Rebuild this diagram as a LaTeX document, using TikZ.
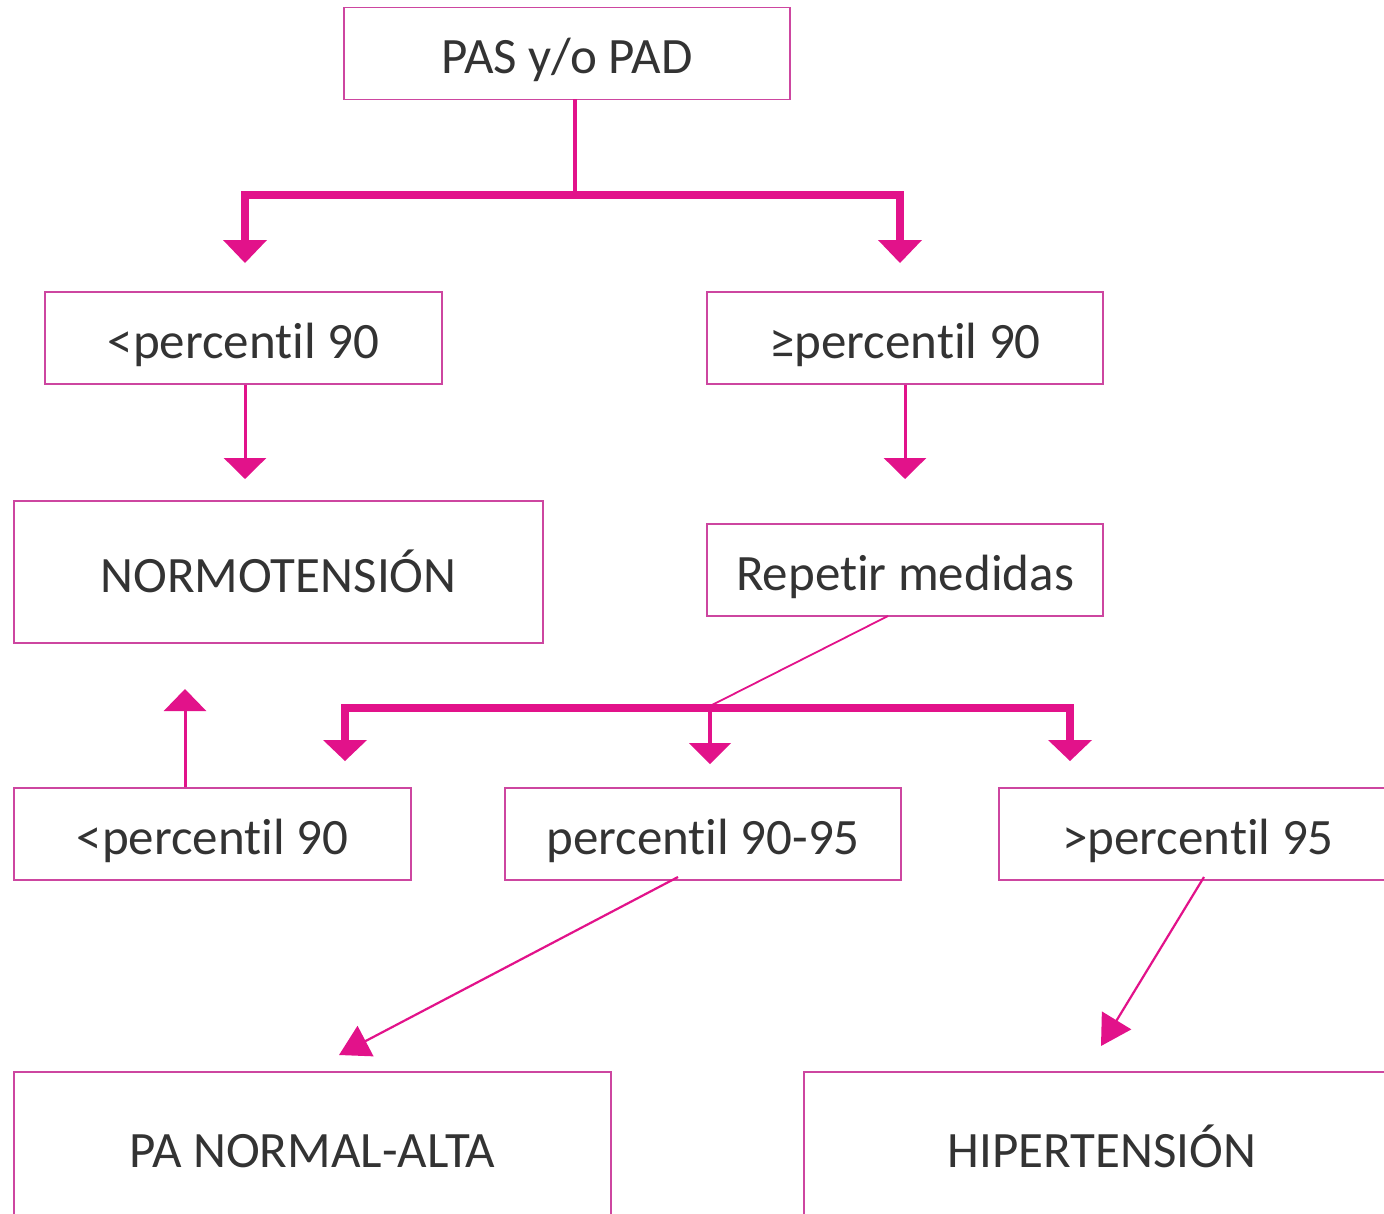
\documentclass[tikz,border=0pt]{standalone}
\usepackage{fontspec}
\setmainfont{Carlito}[Ligatures=NoCommon]
\usetikzlibrary{arrows.meta,calc}
\definecolor{mag}{RGB}{226,18,138}
\definecolor{boxc}{RGB}{205,70,160}
\begin{document}
\begin{tikzpicture}[x=1pt,y=-1pt,
  box/.style={draw=boxc,line width=1.6pt,minimum height=92pt,inner sep=0pt,
    text height=40pt,text depth=0pt,
    font=\fontsize{51}{56}\selectfont,text=black!80},
  bar/.style={draw=mag,line width=8pt},
  stem/.style={draw=mag,line width=4pt},
  thin/.style={draw=mag,line width=2.2pt},
  downtip/.style={-{Triangle[width=42pt,length=21pt]}},
  diagtip/.style={-{Triangle[width=34pt,length=30pt]}}]
\useasboundingbox (0,0) rectangle (1384,1213);

% nodes
\node[box,minimum width=446pt] (top) at (567,53.5) {PAS y/o PAD};
\node[box,minimum width=397pt] (lt) at (243.5,338) {<percentil 90};
\node[box,minimum width=396pt] (rt) at (905,338) {≥percentil 90};
\node[box,minimum width=529pt,minimum height=142pt] (normo) at (278.5,572) {NORMOTENSIÓN};
\node[box,minimum width=396pt] (rep) at (905,570) {Repetir medidas};
\node[box,minimum width=397pt] (lt2) at (212.5,834) {<percentil 90};
\node[box,minimum width=396pt] (mid) at (703,834) {percentil 90-95};
\node[box,minimum width=398pt] (gt) at (1198,834) {>percentil 95};
\node[box,minimum width=597pt,minimum height=150pt] (pana) at (312.5,1147) {PA NORMAL-ALTA};
\node[box,minimum width=596pt,minimum height=150pt] (hiper) at (1102,1147) {HIPERTENSIÓN};

% first split
\coordinate (s1) at (575,99);
\coordinate (j1) at (575,195);
\draw[stem] (s1) -- (j1);
\draw[bar,line join=miter] (575,195) -- (245,195) -- (245,241);
\draw[bar,line join=miter] (575,195) -- (900,195) -- (900,241);
\fill[mag] (223,240) -- (267,240) -- (245,263) -- cycle;
\fill[mag] (878,240) -- (922,240) -- (900,263) -- cycle;

% down arrows
\coordinate (d1) at (245,479);
\coordinate (d2) at (905,479);
\draw[thin,line width=3pt,downtip] (lt.south -| d1) -- (d1);
\draw[thin,line width=3pt,downtip] (rt.south -| d2) -- (d2);

% second split
\coordinate (r1) at (888,616);
\coordinate (j2) at (710,706);
\draw[thin,line width=1.8pt] (r1) -- (j2);
\draw[bar,line join=miter] (345,741) -- (345,708) -- (1070,708) -- (1070,741);
\draw[stem] (710,708) -- (710,744);
\fill[mag] (323,740) -- (367,740) -- (345,761) -- cycle;
\fill[mag] (689,743) -- (731,743) -- (710,764) -- cycle;
\fill[mag] (1048,740) -- (1092,740) -- (1070,761) -- cycle;

% up arrow
\coordinate (u1) at (185,689);
\draw[thin,line width=3pt,-{Triangle[width=42pt,length=22pt]}] (lt2.north -| u1) -- (u1);

% diagonals
\coordinate (m1) at (678,877);
\coordinate (m2) at (339,1055);
\coordinate (g1) at (1204,877);
\coordinate (g2) at (1101,1046);
\draw[thin,diagtip] (m1) -- (m2);
\draw[thin,diagtip] (g1) -- (g2);
\end{tikzpicture}
\end{document}
